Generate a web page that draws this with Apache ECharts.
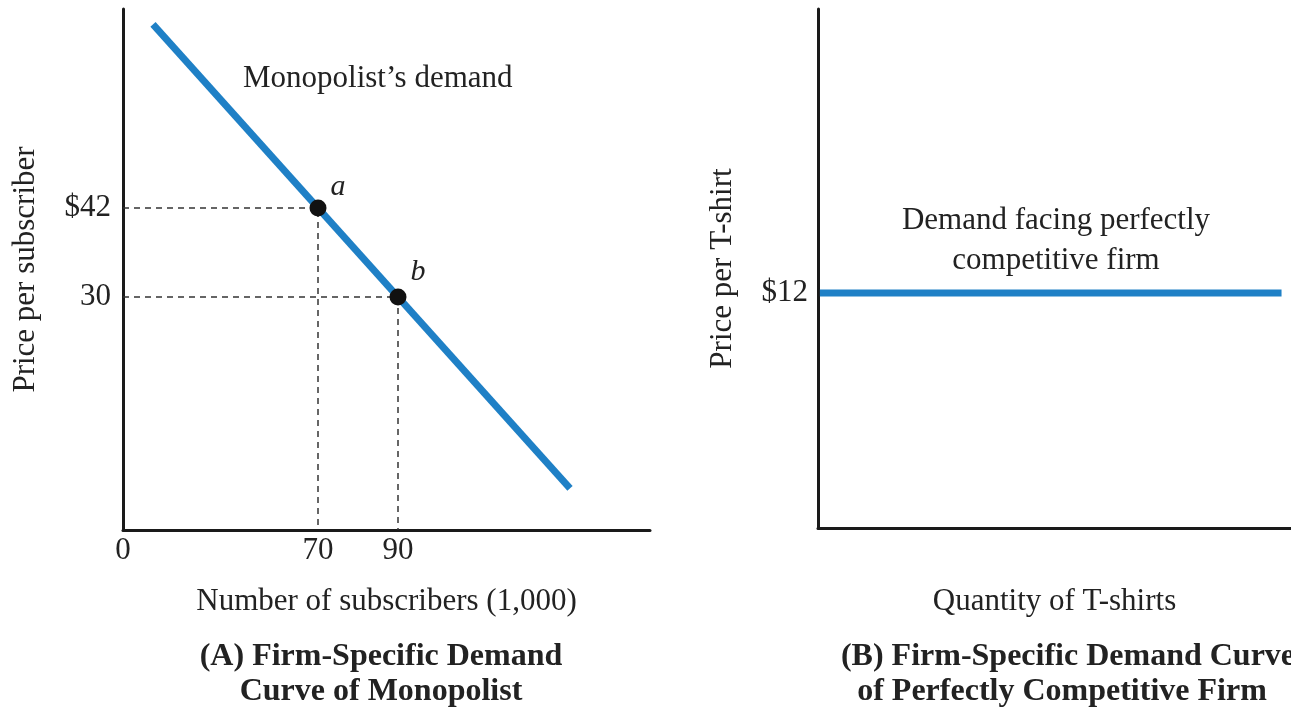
<!DOCTYPE html>
<html>
<head>
<meta charset="utf-8">
<script src="https://cdn.jsdelivr.net/npm/echarts@6/dist/echarts.min.js"></script>
<style>
  html, body { margin: 0; padding: 0; background: #fff; }
  #chart { width: 1291px; height: 709px; }
</style>
</head>
<body>
<div id="chart"></div>
<script>
// panel A: monopolist
const demandA = [[28.75, 66.75], [133, 4.2]];
const pointsA = [[70, 42, 'a'], [90, 30, 'b']];
const xTicksA = [70, 90];
const yTicksA = [30, 42];
// panel B: perfectly competitive firm
const demandB = [[0.4, 12], [98, 12]];
const yTicksB = [12];

const FONT = 'Liberation Serif';
const BLUE = '#1f80c6';
const xMinA = 21.25, xMaxA = 153;
const yMinA = -1.42, yMaxA = 68.83;

const chart = echarts.init(document.getElementById('chart'));

const axisLine = { show: true, onZero: false, lineStyle: { color: '#1a1a1a', width: 3 } };
const labelStyle = { fontFamily: FONT, fontSize: 31, color: '#222' };
const nameStyle = { fontFamily: FONT, fontSize: 31, color: '#222' };

// dashed guides from each point to both axes
const guides = pointsA.map(p => ({
  type: 'line', xAxisIndex: 0, yAxisIndex: 0, silent: true, symbol: 'none',
  lineStyle: { color: '#333', width: 1.5, type: [6, 5] },
  data: [[xMinA, p[1]], [p[0], p[1]], [p[0], yMinA]],
  z: 1
}));

const option = {
  animation: false,
  backgroundColor: '#fff',
  grid: [
    { left: 123, top: 9, width: 527, height: 521 },
    { left: 818, top: 9, width: 473, height: 519 }
  ],
  xAxis: [
    {
      gridIndex: 0, type: 'value', min: xMinA, max: xMaxA,
      axisLine, axisTick: { show: false }, splitLine: { show: false },
      axisLabel: Object.assign({
        customValues: [xMinA].concat(xTicksA),
        formatter: v => (v === xMinA ? '0' : String(v)),
        margin: 5
      }, labelStyle),
      name: 'Number of subscribers (1,000)', nameLocation: 'middle', nameGap: 56,
      nameTextStyle: nameStyle
    },
    {
      gridIndex: 1, type: 'value', min: 0, max: 100,
      axisLine, axisTick: { show: false }, splitLine: { show: false },
      axisLabel: { show: false },
      name: 'Quantity of T-shirts', nameLocation: 'middle', nameGap: 58,
      nameTextStyle: nameStyle
    }
  ],
  yAxis: [
    {
      gridIndex: 0, type: 'value', min: yMinA, max: yMaxA,
      axisLine, axisTick: { show: false }, splitLine: { show: false },
      axisLabel: Object.assign({
        customValues: yTicksA,
        formatter: v => (v === 42 ? '$' + v : String(v)),
        margin: 12
      }, labelStyle),
      name: 'Price per subscriber', nameLocation: 'middle', nameGap: 82,
      nameTextStyle: nameStyle
    },
    {
      gridIndex: 1, type: 'value', min: 0, max: 26.5,
      axisLine, axisTick: { show: false }, splitLine: { show: false },
      axisLabel: Object.assign({
        customValues: yTicksB,
        formatter: v => '$' + v,
        margin: 10
      }, labelStyle),
      name: 'Price per T-shirt', nameLocation: 'middle', nameGap: 80,
      nameTextStyle: nameStyle
    }
  ],
  series: guides.concat([
    {
      type: 'line', xAxisIndex: 0, yAxisIndex: 0, symbol: 'none',
      lineStyle: { color: BLUE, width: 7 },
      data: demandA, z: 2
    },
    {
      type: 'scatter', xAxisIndex: 0, yAxisIndex: 0,
      symbolSize: 17, itemStyle: { color: '#111', opacity: 1 },
      label: {
        show: true, position: 'right', distance: 4,
        formatter: p => p.data[2],
        fontFamily: FONT, fontSize: 30, fontStyle: 'italic', color: '#222'
      },
      labelLayout: p => ({ dy: p.dataIndex === 0 ? -21 : -25 }),
      data: pointsA, z: 3
    },
    {
      type: 'line', xAxisIndex: 1, yAxisIndex: 1, symbol: 'none',
      lineStyle: { color: BLUE, width: 7 },
      data: demandB, z: 2
    }
  ]),
  graphic: [
    { type: 'text', x: 243, y: 79, style: { text: 'Monopolist\u2019s demand', font: '31px "Liberation Serif"', fill: '#222', verticalAlign: 'middle' } },
    { type: 'text', x: 1056, y: 221, style: { text: 'Demand facing perfectly', font: '31px "Liberation Serif"', fill: '#222', align: 'center', verticalAlign: 'middle' } },
    { type: 'text', x: 1056, y: 261, style: { text: 'competitive firm', font: '31px "Liberation Serif"', fill: '#222', align: 'center', verticalAlign: 'middle' } },
    { type: 'text', x: 381, y: 657, style: { text: '(A) Firm-Specific Demand', font: 'bold 32px "Liberation Serif"', fill: '#222', align: 'center', verticalAlign: 'middle' } },
    { type: 'text', x: 381, y: 692, style: { text: 'Curve of Monopolist', font: 'bold 32px "Liberation Serif"', fill: '#222', align: 'center', verticalAlign: 'middle' } },
    { type: 'text', x: 1068, y: 657, style: { text: '(B) Firm-Specific Demand Curve', font: 'bold 32px "Liberation Serif"', fill: '#222', align: 'center', verticalAlign: 'middle' } },
    { type: 'text', x: 1062, y: 692, style: { text: 'of Perfectly Competitive Firm', font: 'bold 32px "Liberation Serif"', fill: '#222', align: 'center', verticalAlign: 'middle' } }
  ]
};

chart.setOption(option);
</script>
</body>
</html>
